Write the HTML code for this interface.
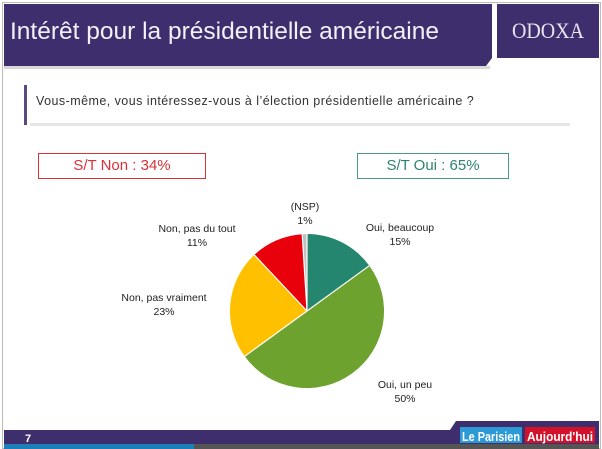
<!DOCTYPE html>
<html><head><meta charset="utf-8"><style>
body{margin:0;width:602px;height:449px;background:#fff;position:relative;overflow:hidden;font-family:"Liberation Sans",sans-serif}
.a{position:absolute}
</style></head><body>
<div class="a" style="left:2px;top:2px;width:597px;height:445px;border:1px solid #bbb"></div>
<svg class="a" style="left:0;top:0" width="602" height="449">
<polygon points="4,4 492,4 492,58 486,66 4,66" fill="#3f2e6e"/>
<rect x="4" y="66" width="486" height="3" fill="#d8d8d8"/>
<rect x="497" y="4" width="102" height="54" fill="#3f2e6e"/>
<text x="548" y="38" text-anchor="middle" font-family="Liberation Serif" font-size="22" fill="#e8e4f0" textLength="72" lengthAdjust="spacingAndGlyphs">ODOXA</text>
<polygon points="4,430 450,430 456,421 599,421 599,444 4,444" fill="#3f2e6e"/>
<rect x="4" y="444" width="190" height="5" fill="#1d7fb8"/>
<rect x="194" y="444" width="405" height="5" fill="#555"/>
<rect x="460" y="427" width="62" height="16" fill="#2b9ad6"/>
<text x="462" y="441" font-size="13" fill="#fff" font-weight="bold" textLength="58" lengthAdjust="spacingAndGlyphs">Le Parisien</text>
<rect x="525" y="427" width="70" height="16" fill="#d4112a"/>
<text x="527" y="441" font-size="13" fill="#fff" font-weight="bold" textLength="66" lengthAdjust="spacingAndGlyphs">Aujourd'hui</text>
<text x="25" y="442" font-size="11" fill="#fff" font-weight="bold">7</text>
<rect x="24" y="85" width="3" height="40" fill="#5a4a80"/>
<rect x="30" y="123" width="540" height="3" fill="#e6e6e6"/>
<rect x="38.5" y="153.5" width="167" height="25" fill="none" stroke="#d9323b"/>
<rect x="357.5" y="153.5" width="151" height="25" fill="none" stroke="#4a9a8a"/>
<path d="M307,311 L307,234 A77,77 0 0 1 369.3,265.7Z" fill="#25866f"/>
<path d="M307,311 L369.3,265.7 A77,77 0 0 1 244.7,356.3Z" fill="#6ea22f"/>
<path d="M307,311 L244.7,356.3 A77,77 0 0 1 254.3,254.9Z" fill="#ffc000"/>
<path d="M307,311 L254.3,254.9 A77,77 0 0 1 302.2,234.2Z" fill="#e8000b"/>
<path d="M307,311 L302.2,234.2 A77,77 0 0 1 307,234Z" fill="#c0c0c0"/>
<g stroke="#fff" stroke-width="1.2"><line x1="307" y1="311" x2="307" y2="234"/><line x1="307" y1="311" x2="369.3" y2="265.7"/><line x1="307" y1="311" x2="244.7" y2="356.3"/><line x1="307" y1="311" x2="254.3" y2="254.9"/><line x1="307" y1="311" x2="302.2" y2="234.2"/></g>
<g font-size="10.5" fill="#222" text-anchor="middle">
<text x="305" y="210">(NSP)</text><text x="305" y="224">1%</text>
<text x="197" y="232">Non, pas du tout</text><text x="197" y="246">11%</text>
<text x="164" y="301">Non, pas vraiment</text><text x="164" y="315">23%</text>
<text x="400" y="231">Oui, beaucoup</text><text x="400" y="245">15%</text>
<text x="405" y="388">Oui, un peu</text><text x="405" y="402">50%</text>
</g>
</svg>
<div class="a" style="left:10px;top:18px;font-size:24.5px;color:#f2f0f8">Intérêt pour la présidentielle américaine</div>
<div class="a" style="left:36px;top:94px;font-size:12.5px;letter-spacing:0.45px;color:#333">Vous-même, vous intéressez-vous à l’élection présidentielle américaine ?</div>
<div class="a" style="left:38px;top:157px;width:168px;text-align:center;font-size:15px;color:#d9323b">S/T Non : 34%</div>
<div class="a" style="left:357px;top:157px;width:152px;text-align:center;font-size:15px;color:#2f8272">S/T Oui : 65%</div>
</body></html>
